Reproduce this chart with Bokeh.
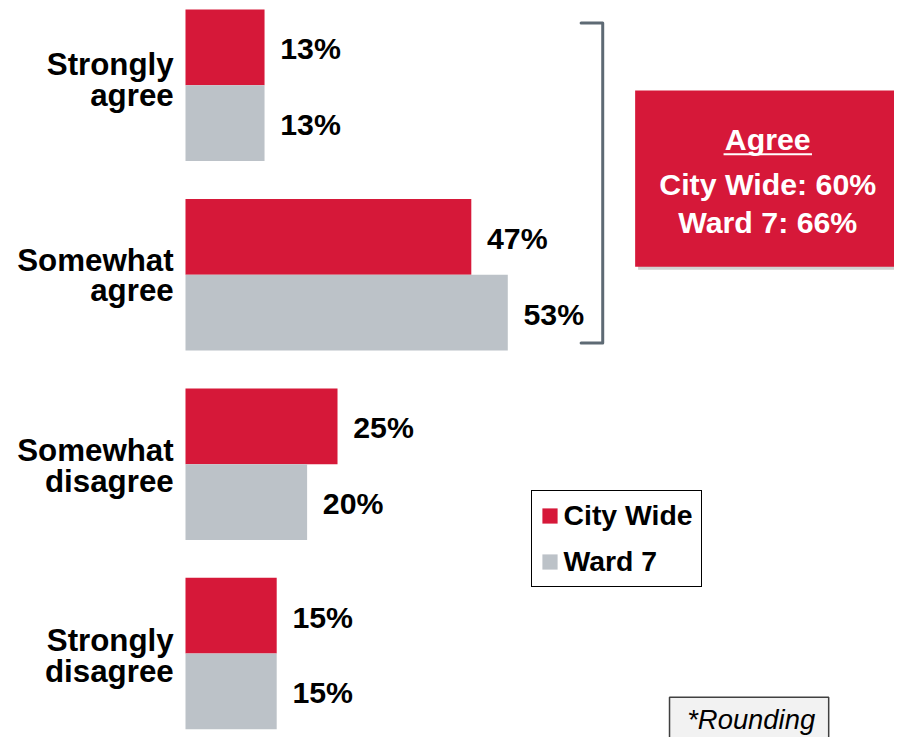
from bokeh.plotting import figure
from bokeh.models import Range1d, Legend, LegendItem
from bokeh.embed import file_html
from bokeh.resources import INLINE
from bokeh.core.properties import value

# ---------------- data ----------------
categories = ["Strongly\nagree", "Somewhat\nagree", "Somewhat\ndisagree", "Strongly\ndisagree"]
city_wide = [13, 47, 25, 15]
ward_7 = [13, 53, 20, 15]
series_names = ["City Wide", "Ward 7"]
note_text = "*Rounding"

# ---------------- style / layout ----------------
RED = "#D61839"
GRAY = "#BCC2C8"
BRACKET = "#5E6A74"
FONT = "Liberation Sans"
W, H = 894, 737
SX, SY = W / 910, H / 753     # reference-pixel to figure-pixel scale
PXPCT = 6.19 * SX             # pixels per percent
X0 = 188.3 * SX               # pixel position of 0%
UNIT = 77.4 * SY              # pixels per bar height
Y0 = 9.3 * SY                 # pixel offset of the first bar top
GROUP = 2.5                   # bar units per category group
FS = lambda s: f"{s * SY:.1f}px"


def xd(px_ref):
    return (px_ref * SX - X0) / PXPCT


def yd(py_ref):
    return (py_ref * SY - Y0) / UNIT


p = figure(width=W, height=H, output_backend="svg", toolbar_location=None,
           x_axis_type=None, y_axis_type=None, min_border=0,
           x_range=Range1d(-X0 / PXPCT, (W - X0) / PXPCT),
           y_range=Range1d(start=(H - Y0) / UNIT, end=-Y0 / UNIT))
p.outline_line_color = None
p.background_fill_color = "white"
p.border_fill_color = "white"

n = len(categories)
red_y = [GROUP * i + 0.5 for i in range(n)]
gray_y = [GROUP * i + 1.5 for i in range(n)]
mid_y = [GROUP * i + 1.0 for i in range(n)]

r_city = p.hbar(y=red_y, left=0, right=city_wide, height=1.0,
                fill_color=RED, line_color=None)
r_ward = p.hbar(y=gray_y, left=0, right=ward_7, height=1.0,
                fill_color=GRAY, line_color=None)

# value labels
for ys, vals in ((red_y, city_wide), (gray_y, ward_7)):
    p.text(x=vals, y=ys, text=[f"{v}%" for v in vals],
           x_offset=16 * SX, y_offset=1.5 * SY, text_align="left",
           text_baseline="middle", text_font=value(FONT),
           text_font_style="bold", text_font_size=FS(31), text_color="black")

# category labels (two lines each)
shift = [-21, -15, -13.5, -13.3]
line1 = [c.split("\n")[0] for c in categories]
line2 = [c.split("\n")[1] for c in categories]
for i in range(n):
    for k, txt in enumerate((line1[i], line2[i])):
        p.text(x=[0], y=[mid_y[i]], text=[txt], x_offset=-12 * SX,
               y_offset=(shift[i] + 31.5 * k) * SY,
               text_align="right", text_baseline="middle", text_font=value(FONT),
               text_font_style="bold", text_font_size=FS(32), text_color="black")

# bracket around agree groups
p.line(x=[xd(591), xd(613), xd(613), xd(591)],
       y=[yd(23), yd(23), yd(350), yd(350)],
       line_color=BRACKET, line_width=3, line_join="round", line_cap="round")

# Agree summary box
agree_city = city_wide[0] + city_wide[1]
agree_ward = ward_7[0] + ward_7[1]
p.quad(left=[xd(649)], right=[xd(915)], top=[yd(95)], bottom=[yd(275)],
       fill_color="#9a9a9a", fill_alpha=0.45, line_color=None)
p.quad(left=[xd(646)], right=[xd(912)], top=[yd(92)], bottom=[yd(272)],
       fill_color=RED, line_color=None)
bx = xd(781)
p.text(x=[bx], y=[yd(141.7)], text=["Agree"], text_align="center",
       text_baseline="middle", text_font=value(FONT), text_font_style="bold",
       text_font_size=FS(31), text_color="white")
p.line(x=[xd(736), xd(826)], y=[yd(157), yd(157)], line_color="white", line_width=2)
p.text(x=[bx, bx], y=[yd(188), yd(226.7)],
       text=[f"{series_names[0]}: {agree_city}%", f"{series_names[1]}: {agree_ward}%"],
       text_align="center", text_baseline="middle", text_font=value(FONT),
       text_font_style="bold", text_font_size=FS(31), text_color="white")

# Rounding note box
p.quad(left=[xd(681)], right=[xd(843)], top=[yd(712)], bottom=[yd(780)],
       fill_color="#F2F2F2", line_color="#404040", line_width=1.5)
p.text(x=[xd(699)], y=[yd(735)], text=[note_text], text_align="left",
       text_baseline="middle", text_font=value(FONT), text_font_style="italic",
       text_font_size=FS(28), text_color="black")

# legend
legend = Legend(items=[LegendItem(label=series_names[0], renderers=[r_city]),
                       LegendItem(label=series_names[1], renderers=[r_ward])],
                location=(540 * SX, H - 600 * SY), orientation="vertical",
                border_line_color="black", border_line_width=1.5, border_line_alpha=1,
                background_fill_color="white", background_fill_alpha=1,
                padding=8, spacing=13, margin=0,
                glyph_width=19, glyph_height=19, label_standoff=5,
                label_text_font=FONT, label_text_font_style="bold",
                label_text_font_size=FS(29), label_text_color="black")
p.add_layout(legend)

open("out.html", "w").write(file_html(p, INLINE))
